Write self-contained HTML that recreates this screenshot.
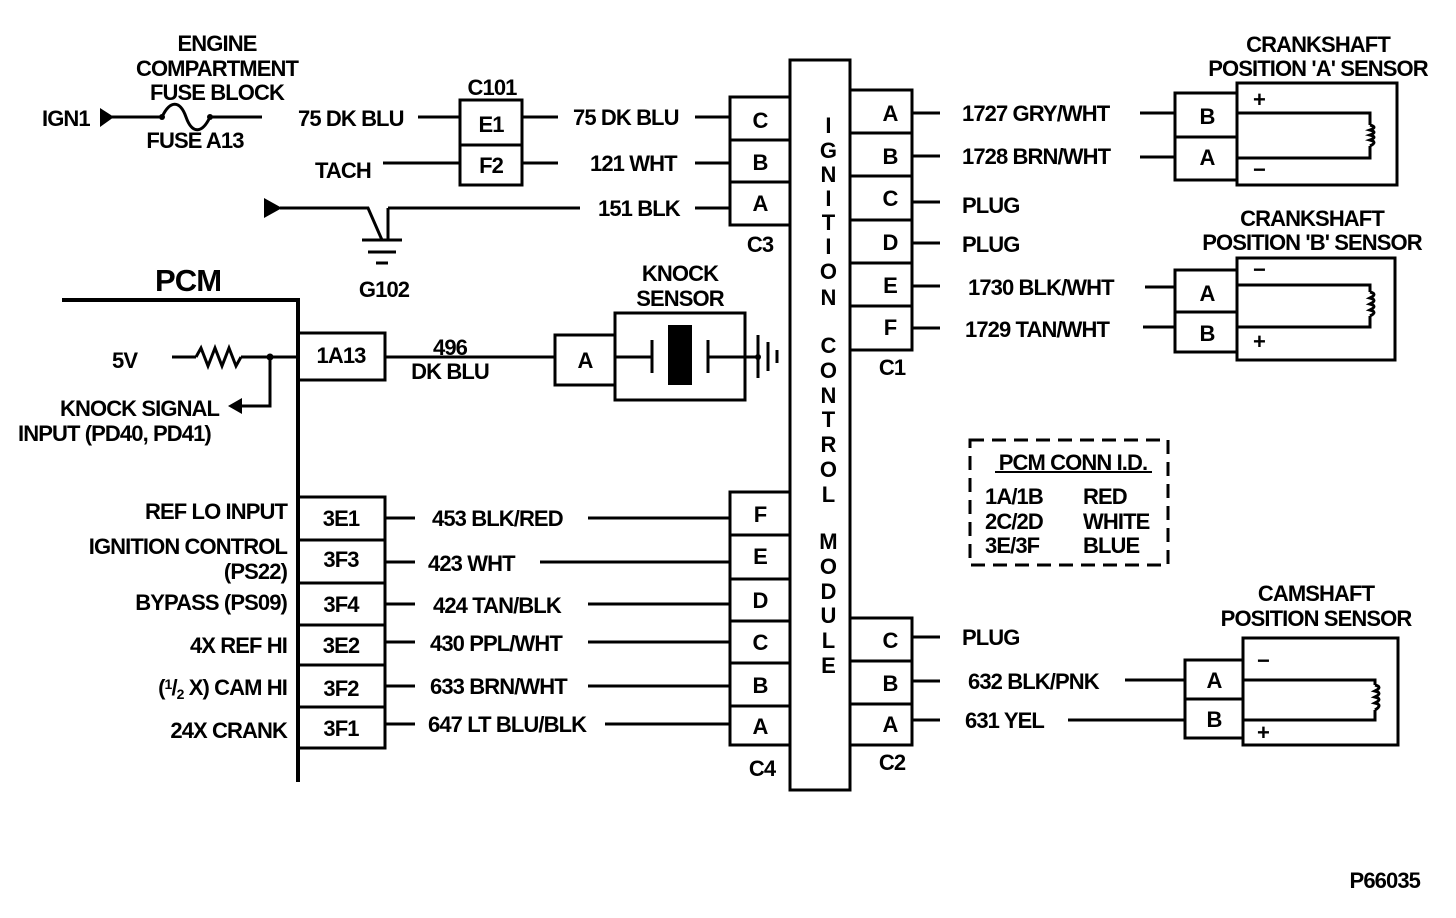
<!DOCTYPE html>
<html><head><meta charset="utf-8"><style>
html,body{margin:0;padding:0;background:#fff;}
svg{display:block;}
text{font-family:"Liberation Sans",Arial,sans-serif;font-weight:bold;font-size:22px;fill:#000;letter-spacing:-0.9px;}
.m{text-anchor:middle;}
.e{text-anchor:end;}
</style></head><body>
<svg width="1456" height="918" viewBox="0 0 1456 918" xmlns="http://www.w3.org/2000/svg">
<g stroke="#000" stroke-width="3" fill="none">
<line x1="112" y1="117" x2="162" y2="117"/>
<path d="M162 117 C170 100 180 100 186 117 C192 134 202 134 210 117"/>
<line x1="210" y1="117" x2="262" y2="117"/>
<line x1="418" y1="117" x2="460" y2="117"/>
<rect x="460" y="100" width="62" height="85"/>
<line x1="460" y1="145" x2="522" y2="145"/>
<line x1="522" y1="117" x2="558" y2="117"/>
<line x1="695" y1="117" x2="730" y2="117"/>
<line x1="383" y1="163" x2="460" y2="163"/>
<line x1="522" y1="163" x2="558" y2="163"/>
<line x1="695" y1="163" x2="730" y2="163"/>
<rect x="730" y="97" width="60" height="128"/>
<line x1="730" y1="140" x2="790" y2="140"/>
<line x1="730" y1="182" x2="790" y2="182"/>
<polyline points="280,208 368,208 382,240"/>
<line x1="388" y1="208" x2="580" y2="208"/>
<line x1="388" y1="208" x2="388" y2="240"/>
<line x1="362" y1="240" x2="402" y2="240"/>
<line x1="368" y1="252" x2="396" y2="252"/>
<line x1="376" y1="263" x2="388" y2="263"/>
<line x1="695" y1="208" x2="730" y2="208"/>
<rect x="790" y="60" width="60" height="730"/>
<rect x="850" y="90" width="62" height="260"/>
<line x1="850" y1="133" x2="912" y2="133"/>
<line x1="850" y1="176" x2="912" y2="176"/>
<line x1="850" y1="220" x2="912" y2="220"/>
<line x1="850" y1="263" x2="912" y2="263"/>
<line x1="850" y1="306" x2="912" y2="306"/>
<line x1="912" y1="113" x2="940" y2="113"/>
<line x1="912" y1="156" x2="940" y2="156"/>
<line x1="912" y1="202" x2="940" y2="202"/>
<line x1="912" y1="243" x2="940" y2="243"/>
<line x1="912" y1="286" x2="940" y2="286"/>
<line x1="912" y1="328" x2="940" y2="328"/>
<line x1="1140" y1="113" x2="1175" y2="113"/>
<line x1="1140" y1="157" x2="1175" y2="157"/>
<line x1="1145" y1="287" x2="1175" y2="287"/>
<line x1="1143" y1="327" x2="1175" y2="327"/>
<rect x="1175" y="93" width="62" height="87"/>
<line x1="1175" y1="137" x2="1237" y2="137"/>
<rect x="1237" y="83" width="160" height="102"/>
<polyline points="1237,113 1370,113 1370,125"/>
<polyline points="1237,158 1370,158 1370,146"/>
<path d="M1370 125 q8 2 0 5 q8 2 0 5 q8 2 0 5 q8 2 0 6"/>
<rect x="1175" y="270" width="62" height="82"/>
<line x1="1175" y1="312" x2="1237" y2="312"/>
<rect x="1237" y="258" width="158" height="102"/>
<polyline points="1237,285 1370,285 1370,292"/>
<polyline points="1237,327 1370,327 1370,316"/>
<path d="M1370 292 q8 2 0 6 q8 2 0 6 q8 2 0 6 q8 2 0 6"/>
<line x1="62" y1="300" x2="300" y2="300" stroke-width="4"/>
<line x1="298" y1="298" x2="298" y2="782" stroke-width="4"/>
<rect x="298" y="333" width="87" height="47"/>
<line x1="172" y1="357" x2="196" y2="357"/>
<polyline points="196,357 201,348 208,366 215,348 222,366 229,348 236,366 241,357"/>
<line x1="241" y1="357" x2="298" y2="357"/>
<polyline points="270,357 270,406 240,406"/>
<line x1="385" y1="357" x2="555" y2="357"/>
<rect x="555" y="335" width="60" height="50"/>
<rect x="615" y="313" width="130" height="87"/>
<line x1="615" y1="357" x2="652" y2="357"/>
<line x1="652" y1="340" x2="652" y2="373"/>
<line x1="708" y1="340" x2="708" y2="373"/>
<line x1="708" y1="357" x2="758" y2="357"/>
<line x1="758" y1="335" x2="758" y2="378"/>
<line x1="768" y1="342" x2="768" y2="371"/>
<line x1="777" y1="350" x2="777" y2="363"/>
<rect x="298" y="497" width="87" height="251"/>
<line x1="298" y1="540" x2="385" y2="540"/>
<line x1="298" y1="583" x2="385" y2="583"/>
<line x1="298" y1="625" x2="385" y2="625"/>
<line x1="298" y1="665" x2="385" y2="665"/>
<line x1="298" y1="707" x2="385" y2="707"/>
<line x1="385" y1="518" x2="415" y2="518"/><line x1="588" y1="518" x2="730" y2="518"/>
<line x1="385" y1="562" x2="415" y2="562"/><line x1="540" y1="562" x2="730" y2="562"/>
<line x1="385" y1="604" x2="415" y2="604"/><line x1="588" y1="604" x2="730" y2="604"/>
<line x1="385" y1="642" x2="415" y2="642"/><line x1="588" y1="642" x2="730" y2="642"/>
<line x1="385" y1="686" x2="415" y2="686"/><line x1="588" y1="686" x2="730" y2="686"/>
<line x1="385" y1="724" x2="415" y2="724"/><line x1="605" y1="724" x2="730" y2="724"/>
<rect x="730" y="492" width="60" height="253"/>
<line x1="730" y1="535" x2="790" y2="535"/>
<line x1="730" y1="579" x2="790" y2="579"/>
<line x1="730" y1="621" x2="790" y2="621"/>
<line x1="730" y1="663" x2="790" y2="663"/>
<line x1="730" y1="706" x2="790" y2="706"/>
<rect x="850" y="618" width="62" height="127"/>
<line x1="850" y1="661" x2="912" y2="661"/>
<line x1="850" y1="704" x2="912" y2="704"/>
<line x1="912" y1="637" x2="940" y2="637"/>
<line x1="912" y1="681" x2="940" y2="681"/>
<line x1="912" y1="720" x2="940" y2="720"/>
<line x1="1125" y1="680" x2="1185" y2="680"/>
<line x1="1068" y1="720" x2="1185" y2="720"/>
<rect x="1185" y="660" width="58" height="78"/>
<line x1="1185" y1="699" x2="1243" y2="699"/>
<rect x="1243" y="638" width="155" height="107"/>
<polyline points="1243,680 1375,680 1375,685"/>
<polyline points="1243,720 1375,720 1375,710"/>
<path d="M1375 685 q8 2 0 6 q8 2 0 6 q8 2 0 6 q8 2 0 7"/>
<rect x="970" y="440" width="198" height="125" stroke-dasharray="14,8"/>
<line x1="995" y1="472" x2="1152" y2="472" stroke-width="2"/>
</g>
<g fill="#000">
<polygon points="100,108 100,127 114,117"/>
<polygon points="264,198 264,218 282,208"/>
<circle cx="162" cy="117" r="3"/><circle cx="210" cy="117" r="3"/>
<circle cx="270" cy="357" r="3.5"/>
<polygon points="228,406 242,398 242,414"/>
<rect x="668" y="325" width="24" height="60"/>
<circle cx="758" cy="357" r="3"/>
</g>
<text class="m" x="217" y="51">ENGINE</text>
<text class="m" x="217" y="76">COMPARTMENT</text>
<text class="m" x="217" y="100">FUSE BLOCK</text>
<text x="42" y="126">IGN1</text>
<text class="m" x="195" y="148">FUSE A13</text>
<text x="298" y="126">75 DK BLU</text>
<text class="m" x="492" y="95">C101</text>
<text class="m" x="491" y="132">E1</text>
<text class="m" x="491" y="173">F2</text>
<text x="315" y="178">TACH</text>
<text x="573" y="125">75 DK BLU</text>
<text x="590" y="171">121 WHT</text>
<text x="598" y="216">151 BLK</text>
<text class="m" x="760" y="128">C</text>
<text class="m" x="760" y="170">B</text>
<text class="m" x="760" y="211">A</text>
<text class="m" x="760" y="252">C3</text>
<text class="m" x="384" y="297">G102</text>
<g style="font-weight:normal">
<text class="m" x="828" y="133">I</text>
<text class="m" x="828" y="158">G</text>
<text class="m" x="828" y="182">N</text>
<text class="m" x="828" y="206">I</text>
<text class="m" x="828" y="230">T</text>
<text class="m" x="828" y="254">I</text>
<text class="m" x="828" y="279">O</text>
<text class="m" x="828" y="305">N</text>
<text class="m" x="828" y="353">C</text>
<text class="m" x="828" y="378">O</text>
<text class="m" x="828" y="403">N</text>
<text class="m" x="828" y="427">T</text>
<text class="m" x="828" y="452">R</text>
<text class="m" x="828" y="477">O</text>
<text class="m" x="828" y="502">L</text>
<text class="m" x="828" y="549">M</text>
<text class="m" x="828" y="574">O</text>
<text class="m" x="828" y="599">D</text>
<text class="m" x="828" y="623">U</text>
<text class="m" x="828" y="648">L</text>
<text class="m" x="828" y="673">E</text>
</g>
<text class="m" x="890" y="121">A</text>
<text class="m" x="890" y="164">B</text>
<text class="m" x="890" y="206">C</text>
<text class="m" x="890" y="250">D</text>
<text class="m" x="890" y="293">E</text>
<text class="m" x="890" y="335">F</text>
<text class="m" x="892" y="375">C1</text>
<text x="962" y="121">1727 GRY/WHT</text>
<text x="962" y="164">1728 BRN/WHT</text>
<text x="962" y="213">PLUG</text>
<text x="962" y="252">PLUG</text>
<text x="968" y="295">1730 BLK/WHT</text>
<text x="965" y="337">1729 TAN/WHT</text>
<text class="m" x="1318" y="52">CRANKSHAFT</text>
<text class="m" x="1318" y="76">POSITION 'A' SENSOR</text>
<text class="m" x="1207" y="124">B</text>
<text class="m" x="1207" y="165">A</text>
<text x="1253" y="107">+</text>
<text x="1253" y="177">−</text>
<text class="m" x="1312" y="226">CRANKSHAFT</text>
<text class="m" x="1312" y="250">POSITION 'B' SENSOR</text>
<text class="m" x="1207" y="301">A</text>
<text class="m" x="1207" y="341">B</text>
<text x="1253" y="277">−</text>
<text x="1253" y="349">+</text>
<text x="155" y="291" style="font-size:31px">PCM</text>
<text class="m" x="341" y="363">1A13</text>
<text x="112" y="368">5V</text>
<text class="m" x="450" y="355">496</text>
<text class="m" x="450" y="379">DK BLU</text>
<text class="m" x="585" y="368">A</text>
<text class="m" x="680" y="281">KNOCK</text>
<text class="m" x="680" y="306">SENSOR</text>
<text x="60" y="416">KNOCK SIGNAL</text>
<text x="18" y="441">INPUT (PD40, PD41)</text>
<text class="e" x="287" y="519">REF LO INPUT</text>
<text class="e" x="287" y="554">IGNITION CONTROL</text>
<text class="e" x="287" y="579">(PS22)</text>
<text class="e" x="287" y="610">BYPASS (PS09)</text>
<text class="e" x="287" y="653">4X REF HI</text>
<text class="e" x="287" y="695">(<tspan font-size="14" dy="-6">1</tspan><tspan dy="6">/</tspan><tspan font-size="14" dy="4">2</tspan><tspan dy="-4"> X) CAM HI</tspan></text>
<text class="e" x="287" y="738">24X CRANK</text>
<text class="m" x="341" y="526">3E1</text>
<text class="m" x="341" y="567">3F3</text>
<text class="m" x="341" y="612">3F4</text>
<text class="m" x="341" y="653">3E2</text>
<text class="m" x="341" y="696">3F2</text>
<text class="m" x="341" y="736">3F1</text>
<text x="432" y="526">453 BLK/RED</text>
<text x="428" y="571">423 WHT</text>
<text x="433" y="613">424 TAN/BLK</text>
<text x="430" y="651">430 PPL/WHT</text>
<text x="430" y="694">633 BRN/WHT</text>
<text x="428" y="732">647 LT BLU/BLK</text>
<text class="m" x="760" y="522">F</text>
<text class="m" x="760" y="564">E</text>
<text class="m" x="760" y="608">D</text>
<text class="m" x="760" y="650">C</text>
<text class="m" x="760" y="693">B</text>
<text class="m" x="760" y="734">A</text>
<text class="m" x="762" y="776">C4</text>
<text class="m" x="890" y="648">C</text>
<text class="m" x="890" y="691">B</text>
<text class="m" x="890" y="732">A</text>
<text class="m" x="892" y="770">C2</text>
<text x="962" y="645">PLUG</text>
<text x="968" y="689">632 BLK/PNK</text>
<text x="965" y="728">631 YEL</text>
<text class="m" x="1316" y="601">CAMSHAFT</text>
<text class="m" x="1316" y="626">POSITION SENSOR</text>
<text class="m" x="1214" y="688">A</text>
<text class="m" x="1214" y="727">B</text>
<text x="1257" y="668">−</text>
<text x="1257" y="740">+</text>
<text class="m" x="1073" y="470">PCM CONN I.D.</text>
<text x="985" y="504">1A/1B</text>
<text x="985" y="529">2C/2D</text>
<text x="985" y="553">3E/3F</text>
<text x="1083" y="504">RED</text>
<text x="1083" y="529">WHITE</text>
<text x="1083" y="553">BLUE</text>
<text class="e" x="1420" y="888">P66035</text>
</svg>
</body></html>
